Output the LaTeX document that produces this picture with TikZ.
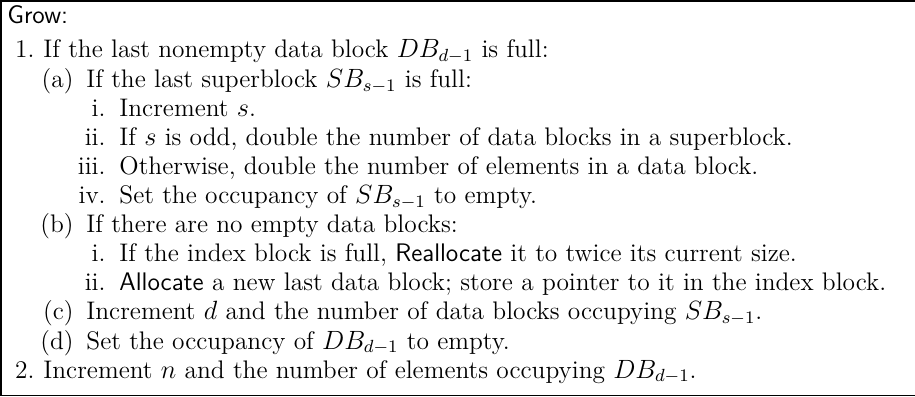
\documentclass[tikz,border=0pt]{standalone}
\begin{document}
\begin{tikzpicture}[x=0.4545pt,y=-0.4545pt,
  lab/.style={anchor=base east,inner sep=0pt,font=\fontsize{11.55}{13.5}\selectfont},
  txt/.style={anchor=base west,inner sep=0pt,font=\fontsize{11.55}{13.5}\selectfont},
  hdr/.style={anchor=base west,inner sep=0pt,font=\fontsize{11.55}{13.5}\sffamily}]
\useasboundingbox (0,0) rectangle (915,397);
\draw[line width=0.9pt] (915,1) -- (1,1) -- (1,395.5) -- (915,395.5);
\newcommand{\sfx}[1]{\textsf{#1}}
\node[hdr] (grow) at (7,24) {Grow:};
\node[lab] (n1) at (35,58) {1.};
\node[txt] (t1) at (43,58) {If the last nonempty data block $DB_{d-1}$ is full:};
\node[lab] (na) at (74,87.1) {(a)};
\node[txt] (ta) at (86,87.1) {If the last superblock $SB_{s-1}$ is full:};
\node[lab] (nai) at (106,116.2) {i.};
\node[txt] (tai) at (119,116.2) {Increment $s$.};
\node[lab] (naii) at (106,145.3) {ii.};
\node[txt] (taii) at (119,145.3) {If $s$ is odd, double the number of data blocks in a superblock.};
\node[lab] (naiii) at (106,174.4) {iii.};
\node[txt] (taiii) at (119,174.4) {Otherwise, double the number of elements in a data block.};
\node[lab] (naiv) at (106,203.5) {iv.};
\node[txt] (taiv) at (119,203.5) {Set the occupancy of $SB_{s-1}$ to empty.};
\node[lab] (nb) at (74,232.6) {(b)};
\node[txt] (tb) at (86,232.6) {If there are no empty data blocks:};
\node[lab] (nbi) at (106,261.7) {i.};
\node[txt] (tbi) at (119,261.7) {If the index block is full, \sfx{Reallocate} it to twice its current size.};
\node[lab] (nbii) at (106,290.8) {ii.};
\node[txt] (tbii) at (119,290.8) {\sfx{Allocate} a new last data block; store a pointer to it in the index block.};
\node[lab] (nc) at (74,319.9) {(c)};
\node[txt] (tc) at (86,319.9) {Increment $d$ and the number of data blocks occupying $SB_{s-1}$.};
\node[lab] (nd) at (74,349) {(d)};
\node[txt] (td) at (86,349) {Set the occupancy of $DB_{d-1}$ to empty.};
\node[lab] (n2) at (35,378) {2.};
\node[txt] (t2) at (43,378) {Increment $n$ and the number of elements occupying $DB_{d-1}$.};
\end{tikzpicture}
\end{document}
